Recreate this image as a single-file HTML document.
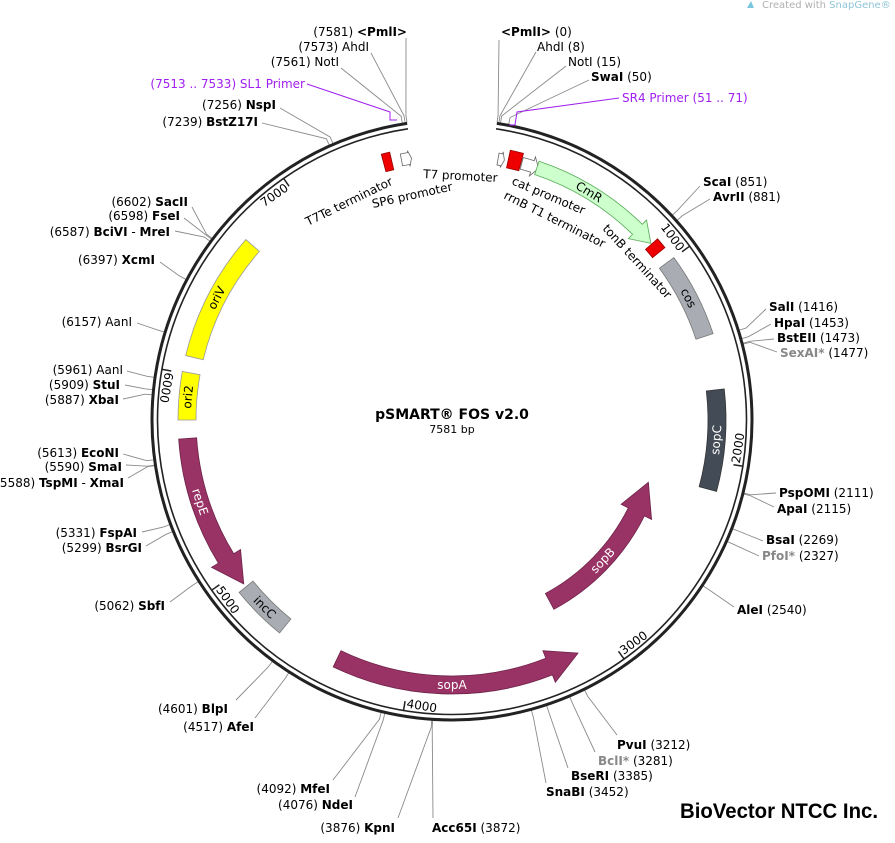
<!DOCTYPE html>
<html><head><meta charset="utf-8">
<style>
html,body{margin:0;padding:0;background:#fff;}
svg{display:block;}
text{font-family:"DejaVu Sans","Liberation Sans",sans-serif;font-size:12px;fill:#000;}
.b{font-weight:bold;}
.g{fill:#888;font-weight:bold;}
.p{fill:#a020f0;}
.f{font-size:12px;}
.w{fill:#fff;font-size:12px;}
.t{font-size:12px;}
</style></head>
<body>
<svg id="s" width="895" height="843" viewBox="0 0 895 843" xmlns="http://www.w3.org/2000/svg">
<g id="lines" stroke="#8a8a8a" stroke-width="0.9" fill="none"></g>
<g id="circ"></g>
<g id="feat"></g>
<g id="ticks"></g>

<polyline points="307,84 390,112 390,120 397,120" stroke="#a020f0" stroke-width="1" fill="none"/>
<polyline points="619,98 517,112 515,125 509,125" stroke="#a020f0" stroke-width="1" fill="none"/>

<text x="452" y="419" text-anchor="middle" class="b" style="font-size:14px">pSMART® FOS v2.0</text>
<text x="452" y="433" text-anchor="middle" style="font-size:11px">7581 bp</text>

<text x="407" y="36" text-anchor="end">(7581)  <tspan class="b">&lt;PmlI&gt;</tspan></text>
<text x="369" y="51" text-anchor="end">(7573)  AhdI</text>
<text x="339" y="66" text-anchor="end">(7561)  NotI</text>
<text x="305" y="88" text-anchor="end" class="p">(7513 .. 7533)  SL1 Primer</text>
<text x="276" y="109" text-anchor="end">(7256)  <tspan class="b">NspI</tspan></text>
<text x="258" y="126" text-anchor="end">(7239)  <tspan class="b">BstZ17I</tspan></text>
<text x="501" y="36"><tspan class="b">&lt;PmlI&gt;</tspan>  (0)</text>
<text x="537" y="51">AhdI  (8)</text>
<text x="568" y="66">NotI  (15)</text>
<text x="591" y="81"><tspan class="b">SwaI</tspan>  (50)</text>
<text x="622" y="102" class="p">SR4 Primer  (51 .. 71)</text>
<text x="703" y="186"><tspan class="b">ScaI</tspan>  (851)</text>
<text x="713" y="201"><tspan class="b">AvrII</tspan>  (881)</text>
<text x="769" y="311"><tspan class="b">SalI</tspan>  (1416)</text>
<text x="774" y="327"><tspan class="b">HpaI</tspan>  (1453)</text>
<text x="777" y="342"><tspan class="b">BstEII</tspan>  (1473)</text>
<text x="780" y="357"><tspan class="g">SexAI*</tspan>  (1477)</text>
<text x="779" y="497"><tspan class="b">PspOMI</tspan>  (2111)</text>
<text x="777" y="513"><tspan class="b">ApaI</tspan>  (2115)</text>
<text x="766" y="544"><tspan class="b">BsaI</tspan>  (2269)</text>
<text x="762" y="560"><tspan class="g">PfoI*</tspan>  (2327)</text>
<text x="737" y="614"><tspan class="b">AleI</tspan>  (2540)</text>
<text x="617" y="749"><tspan class="b">PvuI</tspan>  (3212)</text>
<text x="598" y="765"><tspan class="g">BclI*</tspan>  (3281)</text>
<text x="571" y="780"><tspan class="b">BseRI</tspan>  (3385)</text>
<text x="546" y="796"><tspan class="b">SnaBI</tspan>  (3452)</text>
<text x="432" y="832"><tspan class="b">Acc65I</tspan>  (3872)</text>
<text x="395" y="832" text-anchor="end">(3876)  <tspan class="b">KpnI</tspan></text>
<text x="353" y="809" text-anchor="end">(4076)  <tspan class="b">NdeI</tspan></text>
<text x="330" y="793" text-anchor="end">(4092)  <tspan class="b">MfeI</tspan></text>
<text x="254" y="731" text-anchor="end">(4517)  <tspan class="b">AfeI</tspan></text>
<text x="228" y="713" text-anchor="end">(4601)  <tspan class="b">BlpI</tspan></text>
<text x="165" y="610" text-anchor="end">(5062)  <tspan class="b">SbfI</tspan></text>
<text x="142" y="552" text-anchor="end">(5299)  <tspan class="b">BsrGI</tspan></text>
<text x="137" y="537" text-anchor="end">(5331)  <tspan class="b">FspAI</tspan></text>
<text x="124" y="487" text-anchor="end">(5588)  <tspan class="b">TspMI</tspan> - <tspan class="b">XmaI</tspan></text>
<text x="122" y="471" text-anchor="end">(5590)  <tspan class="b">SmaI</tspan></text>
<text x="119" y="457" text-anchor="end">(5613)  <tspan class="b">EcoNI</tspan></text>
<text x="119" y="404" text-anchor="end">(5887)  <tspan class="b">XbaI</tspan></text>
<text x="120" y="389" text-anchor="end">(5909)  <tspan class="b">StuI</tspan></text>
<text x="123" y="374" text-anchor="end">(5961)  AanI</text>
<text x="132" y="326" text-anchor="end">(6157)  AanI</text>
<text x="155" y="264" text-anchor="end">(6397)  <tspan class="b">XcmI</tspan></text>
<text x="170" y="236" text-anchor="end">(6587)  <tspan class="b">BciVI</tspan> - <tspan class="b">MreI</tspan></text>
<text x="180" y="220" text-anchor="end">(6598)  <tspan class="b">FseI</tspan></text>
<text x="188" y="206" text-anchor="end">(6602)  <tspan class="b">SacII</tspan></text>

<text class="f" transform="translate(308,226) rotate(-26)">T7Te terminator</text>
<text class="f" transform="translate(373,208) rotate(-12.5)">SP6 promoter</text>
<text class="f" transform="translate(423,178) rotate(3)">T7 promoter</text>
<text class="f" transform="translate(511,184) rotate(23)">cat promoter</text>
<text class="f" transform="translate(503,198) rotate(26.6)">rrnB T1 terminator</text>
<text class="f" transform="translate(602,229) rotate(47.5)">tonB terminator</text>

<text x="762" y="8" style="font-size:10px;fill:#b0b0b0">Created with <tspan style="fill:#8fc4d8">SnapGene®</tspan></text>
<path d="M747,8 L751,1 L754,8 Z" fill="#7cc6dd"/>
<text x="680" y="818" textLength="198" lengthAdjust="spacingAndGlyphs" style="font-family:'Liberation Sans',sans-serif;font-size:21px;font-weight:bold;">BioVector NTCC Inc.</text>
</svg>
<script>
(function(){
var NS="http://www.w3.org/2000/svg",cx=452,cy=420;
function th(p){return 8.6+p*342.8/7581;}
function pt(r,a){a=a*Math.PI/180;return [cx+r*Math.sin(a),cy-r*Math.cos(a)];}
function el(par,tag,at,txt){var e=document.createElementNS(NS,tag);for(var k in at)e.setAttribute(k,at[k]);if(txt)e.textContent=txt;document.getElementById(par).appendChild(e);return e;}
function f(p){return p[0].toFixed(2)+","+p[1].toFixed(2);}
function arc(r,a1,a2){var l=Math.abs(a2-a1)>180?1:0,s=a2>a1?1:0;return "A"+r+","+r+" 0 "+l+" "+s+" "+f(pt(r,a2));}
["300|3","294.5|1.6"].forEach(function(v){var q=v.split("|");var r=+q[0];
el("circ","path",{d:"M"+f(pt(r,8.6))+arc(r,8.6,351.4),stroke:"#222","stroke-width":q[1],fill:"none"});});
var sites=[[7581,406,38],[7573,371,53],[7561,341,68],[7256,280,108],[7239,262,123],
[0,499,40],[8,536,52],[15,566,66],[50,589,80],
[851,700,186],[881,710,199],[1416,766,309],[1453,771,324],[1473,774,339],[1477,777,352],[2111,776,493],[2115,774,507],[2269,763,541],[2327,759,556],[2540,734,607],
[3212,617,735],[3281,595,752],[3385,568,768],[3452,546,783],[3872,433,818],[3876,398,818],[4076,355,797],[4092,333,780],[4517,255,718],[4601,236,700],
[5062,170,602],[5299,146,546],[5331,142,532],[5588,128,478],[5590,126,465],[5613,123,454],[5887,123,399],[5909,125,385],[5961,127,371],[6157,137,323],[6397,160,262],[6587,175,231],[6598,184,218],[6602,192,207]];
sites.forEach(function(s){var a=th(s[0]);el("lines","polyline",{points:f(pt(301,a))+" "+f(pt(308,a))+" "+s[1]+","+s[2]});});
function band(r1,r2,a1,a2,fill,stroke){el("feat","path",{d:"M"+f(pt(r2,a1))+arc(r2,a1,a2)+"L"+f(pt(r1,a2))+arc(r1,a2,a1)+"Z",fill:fill,stroke:stroke,"stroke-width":0.8});}
function arrow(r1,r2,aT,aB,aP,h1,h2,fill,stroke){var m=(r1+r2)/2;
el("feat","path",{d:"M"+f(pt(r2,aT))+arc(r2,aT,aB)+"L"+f(pt(h2,aB))+"L"+f(pt(m,aP))+"L"+f(pt(h1,aB))+"L"+f(pt(r1,aB))+arc(r1,aB,aT)+"Z",fill:fill,stroke:stroke,"stroke-width":0.8});}
function lab(r,a,rot,t,cls){var p=pt(r,a);el("feat","text",{transform:"translate("+p[0].toFixed(1)+","+p[1].toFixed(1)+") rotate("+rot+")","text-anchor":"middle","dominant-baseline":"central","class":cls},t);}
band(257,275,345.1,346.9,"#ee0000","#900");
arrow(259,271,349.0,350.6,351.2,257,273,"#fff","#666");
arrow(259,271,10.0,10.8,11.4,257,273,"#fff","#666");
band(258,276,12.2,15.0,"#ee0000","#900");
arrow(260,272,15.2,17.6,19.0,256,276,"#fff","#666");
arrow(259,273,18.6,44.2,48.4,253,279,"#ccffcc","#5a5");
band(258,274,48.6,51.0,"#ee0000","#900");
band(257,275,53.8,71.7,"#a9adb3","#777");
band(256,274,83.5,105.1,"#434c56","#333");
arrow(197,215,151.7,116.5,107.6,189,223,"#993366","#6d2248");
arrow(256,274,205.7,158.5,151.6,248,282,"#993366","#6d2248");
band(256,274,219,231,"#a9adb3","#777");
arrow(256,274,266,238.5,231.8,248,282,"#993366","#6d2248");
band(256,274,270,280.2,"#ffff00","#999");
band(256,274,283.6,311.2,"#ffff00","#999");
lab(266,31,31,"CmR","f");
lab(266,62.7,62.7,"cos","f");
lab(265,94.3,-85.7,"sopC","w");
lab(206,133,-47,"sopB","w");
lab(265,180,0,"sopA","w");
lab(265,225,45,"incC","f");
lab(265,252,72,"repE","w");
lab(265,275,-85,"ori2","f");
lab(265,297.4,-62.6,"oriV","f");
for(var k=1;k<=7;k++){var a=th(k*1000);
el("ticks","line",{x1:pt(294,a)[0],y1:pt(294,a)[1],x2:pt(285,a)[0],y2:pt(285,a)[1],stroke:"#222","stroke-width":1.5});
if(a>90&&a<300){el("ticks","text",{x:cx+2,y:cy+291,"class":"t",transform:"rotate("+(a-180)+" "+cx+" "+cy+")"},""+k*1000);}
else{el("ticks","text",{x:cx-2,y:cy-282,"text-anchor":"end","class":"t",transform:"rotate("+a+" "+cx+" "+cy+")"},""+k*1000);}}
})();
</script>
</body></html>
